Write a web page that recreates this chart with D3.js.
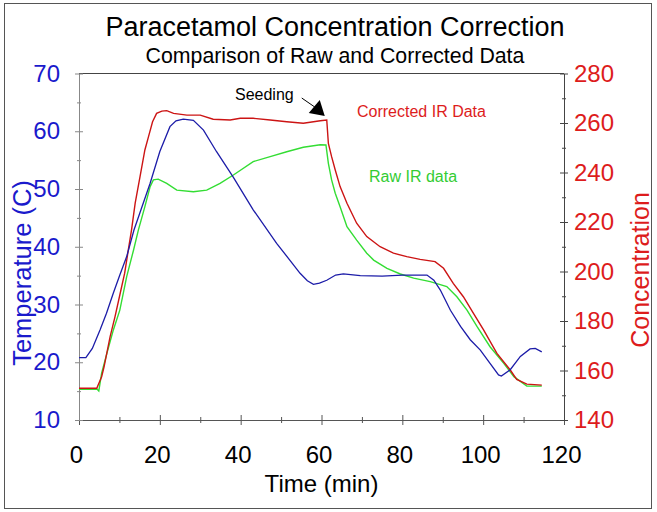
<!DOCTYPE html>
<html>
<head>
<meta charset="utf-8">
<script src="https://cdn.jsdelivr.net/npm/d3@7"></script>
<style>
  body { margin: 0; background: #fff; }
  svg { display: block; font-family: "Liberation Sans", Arial, sans-serif; }
</style>
</head>
<body>
<svg class="chart" width="657" height="512"></svg>
<script>
// temperature (left axis)
const tempTime = [0, 1.7, 3.3, 5.2, 6.8, 8.5, 10.1, 11.8, 13.6, 17.6, 20, 22.5, 24, 25.8, 28.3, 30.8, 34, 38.2, 43.1, 48.9, 54.7, 56.5, 58, 59.5, 61.3, 63.5, 65.4, 69.6, 75, 80, 86.1, 87.8, 89.4, 91.9, 94.4, 96.8, 99.3, 101.7, 103.8, 104.5, 106.7, 109.2, 111.6, 112.9, 114.5];
const temperature = [20.8, 20.8, 22.4, 25.6, 28.5, 32.0, 35.1, 38.3, 42.9, 51.0, 56.5, 60.8, 61.8, 62.1, 61.9, 60.2, 56.5, 52.0, 46.4, 40.6, 35.4, 34.1, 33.5, 33.7, 34.2, 35.1, 35.3, 35.0, 34.9, 35.1, 35.1, 34.2, 32.5, 29.0, 26.2, 23.9, 22.1, 19.8, 17.8, 17.6, 18.7, 21.0, 22.3, 22.4, 21.8];

// corrected IR concentration (right axis)
const corrTime = [0, 4.4, 5.6, 6.2, 7.7, 8.9, 10.1, 11.3, 12.2, 13, 13.9, 15.1, 16.3, 17.2, 18.2, 19.2, 20.5, 21.7, 23.4, 26.7, 30, 33.2, 37.4, 39.9, 43.1, 47.3, 51.4, 55.5, 59.7, 61.3, 61.7, 62.5, 63.4, 64.6, 66.3, 68.7, 71.2, 74.5, 77.8, 81.1, 84.4, 88.1, 90.2, 92.6, 95.1, 97.6, 100.1, 103.4, 106.7, 108.3, 110.8, 114.5];
const corrected = [152.8, 152.8, 157.5, 161.5, 173.7, 181.7, 190.5, 199.3, 208.7, 216.8, 227.6, 238.3, 249.1, 254.5, 260.5, 263.9, 264.8, 265.0, 263.9, 263.2, 263.2, 261.5, 261.2, 261.9, 261.9, 261.2, 260.5, 259.9, 260.9, 261.2, 251.8, 246.4, 241.0, 234.3, 227.6, 219.5, 214.1, 210.0, 207.4, 206.0, 204.9, 204.0, 201.3, 195.2, 189.8, 183.1, 176.4, 166.9, 160.2, 156.4, 154.5, 154.1];

// raw IR concentration (right axis)
const rawTime = [0, 4.5, 4.9, 5.6, 6.9, 8.5, 10.1, 11.8, 13.5, 14.7, 16.3, 17.6, 18.4, 19.6, 21.7, 24.2, 28.3, 31.6, 34.9, 38.2, 43.1, 47.3, 51.4, 55.5, 59.7, 61.1, 61.7, 62.5, 63.4, 64.6, 66.3, 68.7, 71.2, 72.9, 76.2, 79.5, 82.8, 86.9, 91, 93.5, 96, 98.5, 101.7, 105.1, 107.6, 110.8, 114.5];
const raw = [152.4, 152.4, 151.7, 158.9, 166.9, 176.4, 184.4, 197.9, 208.7, 216.8, 226.2, 234.3, 237.0, 237.3, 235.6, 232.9, 232.2, 232.9, 235.6, 239.0, 244.4, 246.4, 248.4, 250.2, 251.2, 251.1, 243.7, 237.0, 231.6, 226.2, 218.1, 212.7, 207.4, 204.6, 201.3, 199.0, 197.3, 195.9, 193.9, 189.8, 184.4, 177.7, 169.6, 162.9, 157.5, 153.7, 153.7];

const timeTicks = [0, 20, 40, 60, 80, 100, 120];
const tempTicks = [10, 20, 30, 40, 50, 60, 70];
const concTicks = [140, 160, 180, 200, 220, 240, 260, 280];
const seeding = { time: 61.3, value: 261.2 };

const blue = "#1c1ca8";
const red = "#cc1414";
const green = "#33dd33";

const svg = d3.select("svg.chart");
const plotLeft = 79, plotRight = 564, plotTop = 73.5, plotBottom = 420;

const x = d3.scaleLinear().domain([0, 120]).range([plotLeft, plotRight]);
const yT = d3.scaleLinear().domain([10, 70]).range([plotBottom, plotTop]);
const yC = d3.scaleLinear().domain([140, 280]).range([plotBottom, plotTop]);

// outer frame
svg.append("rect")
  .attr("x", 4.5).attr("y", 3.5)
  .attr("width", 647).attr("height", 505)
  .attr("fill", "none").attr("stroke", "#555").attr("stroke-width", 1);

svg.append("text")
  .attr("x", 335).attr("y", 36)
  .attr("text-anchor", "middle")
  .attr("font-size", 27)
  .text("Paracetamol Concentration Correction");

svg.append("text")
  .attr("x", 335).attr("y", 63)
  .attr("text-anchor", "middle")
  .attr("font-size", 21.3)
  .text("Comparison of Raw and Corrected Data");

// top frame line
svg.append("line")
  .attr("x1", plotLeft).attr("x2", plotRight)
  .attr("y1", plotTop).attr("y2", plotTop)
  .attr("stroke", "#444");

function styleAxis(g, color, labelColor) {
  g.select(".domain").attr("stroke", color);
  g.selectAll(".tick line").attr("stroke", color);
  g.selectAll(".tick text")
    .attr("font-size", 24)
    .attr("font-family", "Liberation Sans, Arial, sans-serif")
    .attr("fill", labelColor);
}

// minor ticks
const minorX = d3.range(10, 120, 20);
const minorT = d3.range(15, 70, 10);
const minorC = d3.range(150, 280, 20);

svg.append("g")
  .attr("transform", `translate(0,${plotBottom})`)
  .call(d3.axisBottom(x).tickValues(minorX).tickSize(3).tickFormat(""))
  .call(g => g.selectAll(".tick line").attr("y1", -3).attr("y2", 3).attr("stroke", "#555"))
  .call(g => g.select(".domain").remove());

svg.append("g")
  .attr("transform", `translate(${plotLeft},0)`)
  .call(d3.axisLeft(yT).tickValues(minorT).tickSize(2).tickFormat(""))
  .call(g => g.selectAll(".tick line").attr("x1", -2).attr("x2", 2).attr("stroke", "#888"))
  .call(g => g.select(".domain").remove());

svg.append("g")
  .attr("transform", `translate(${plotRight},0)`)
  .call(d3.axisRight(yC).tickValues(minorC).tickSize(2).tickFormat(""))
  .call(g => g.selectAll(".tick line").attr("x1", -2).attr("x2", 2).attr("stroke", "#444"))
  .call(g => g.select(".domain").remove());

// main axes
const xAxis = svg.append("g")
  .attr("transform", `translate(0,${plotBottom})`)
  .call(d3.axisBottom(x).tickValues(timeTicks).tickSize(5).tickPadding(21).tickSizeOuter(0));
styleAxis(xAxis, "#555", "#000");
xAxis.selectAll(".tick line").attr("y1", -5).attr("y2", 5);
xAxis.selectAll(".tick text").attr("dx", -3);

const tAxis = svg.append("g")
  .attr("transform", `translate(${plotLeft},0)`)
  .call(d3.axisLeft(yT).tickValues(tempTicks).tickSize(4).tickPadding(15).tickSizeOuter(0));
styleAxis(tAxis, "#888", "#1a1acc");
tAxis.selectAll(".tick line").attr("x1", -4).attr("x2", 4);

const cAxis = svg.append("g")
  .attr("transform", `translate(${plotRight},0)`)
  .call(d3.axisRight(yC).tickValues(concTicks).tickSize(4).tickPadding(6).tickSizeOuter(0));
styleAxis(cAxis, "#444", "#dd1c1c");
cAxis.selectAll(".tick line").attr("x1", -4).attr("x2", 4);

// axis titles
svg.append("text")
  .attr("x", 321.5).attr("y", 492)
  .attr("text-anchor", "middle")
  .attr("font-size", 24)
  .text("Time (min)");

svg.append("text")
  .attr("transform", "translate(31,273) rotate(-90)")
  .attr("text-anchor", "middle")
  .attr("font-size", 25.5)
  .attr("fill", "#1a1acc")
  .text("Temperature (C)");

svg.append("text")
  .attr("transform", "translate(649,270) rotate(-90)")
  .attr("text-anchor", "middle")
  .attr("font-size", 25)
  .attr("fill", "#dd1c1c")
  .text("Concentration");

// lines
const lineT = d3.line().x(d => x(d[0])).y(d => yT(d[1]));
const lineC = d3.line().x(d => x(d[0])).y(d => yC(d[1]));

svg.append("path")
  .datum(d3.zip(rawTime, raw))
  .attr("d", lineC)
  .attr("fill", "none").attr("stroke", green).attr("stroke-width", 1.4);

svg.append("path")
  .datum(d3.zip(corrTime, corrected))
  .attr("d", lineC)
  .attr("fill", "none").attr("stroke", red).attr("stroke-width", 1.4);

svg.append("path")
  .datum(d3.zip(tempTime, temperature))
  .attr("d", lineT)
  .attr("fill", "none").attr("stroke", blue).attr("stroke-width", 1.3);

// annotations
const tipX = x(seeding.time) - 2, tipY = yC(seeding.value) - 4;

svg.append("text")
  .attr("x", 235).attr("y", 100)
  .attr("font-size", 16)
  .text("Seeding");

svg.append("line")
  .attr("x1", tipX - 23).attr("y1", tipY - 18)
  .attr("x2", tipX - 10).attr("y2", tipY - 9)
  .attr("stroke", "#000").attr("stroke-width", 1);

svg.append("path")
  .attr("d", `M${tipX},${tipY} L${tipX - 16},${tipY - 3} L${tipX - 5},${tipY - 16} Z`)
  .attr("fill", "#000");

svg.append("text")
  .attr("x", 357).attr("y", 117)
  .attr("font-size", 16)
  .attr("fill", "#dd1c1c")
  .text("Corrected IR Data");

svg.append("text")
  .attr("x", 369).attr("y", 182)
  .attr("font-size", 16)
  .attr("fill", "#33cc33")
  .text("Raw IR data");
</script>
</body>
</html>
